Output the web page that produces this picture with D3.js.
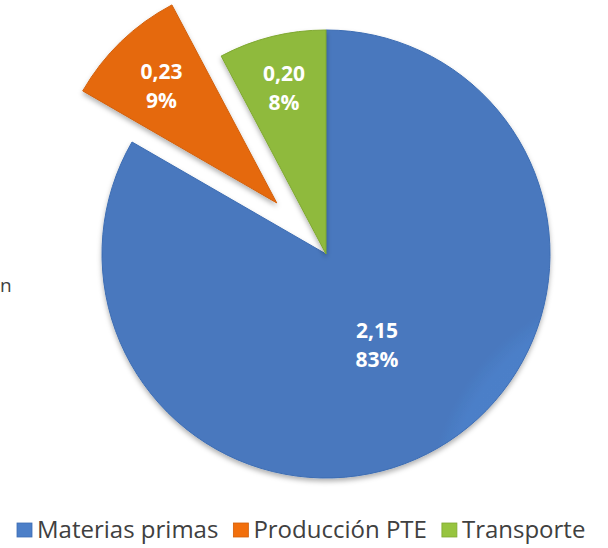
<!DOCTYPE html>
<html>
<head>
<meta charset="utf-8">
<script src="https://cdn.jsdelivr.net/npm/d3@7"></script>
<style>
  body { margin: 0; background: #fff; }
  svg { display: block; }
</style>
</head>
<body>
<svg id="chart" width="608" height="548"></svg>
<script>
// data
var categories = ["Materias primas", "Producción PTE", "Transporte"];
var values = [2.15, 0.23, 0.20];
var percents = ["83%", "9%", "8%"];
var valueLabels = ["2,15", "0,23", "0,20"];
var colors = ["#4c7fc8", "#f26f0c", "#97c43f"];
var edges = ["#3d6db3", "#d25f08", "#7fa831"];

var svg = d3.select("#chart"),
    cx = 326, cy = 254, radius = 224;

// how far each slice is pulled out, and where its label sits
var explode = [0, 71, 0];
var labelR = [102, 166, 174];

var defs = svg.append("defs");
var shadow = defs.append("filter").attr("id", "shadow")
    .attr("x", "-20%").attr("y", "-20%").attr("width", "140%").attr("height", "140%");
shadow.append("feDropShadow")
    .attr("dx", 0).attr("dy", 3).attr("stdDeviation", 2.5)
    .attr("flood-color", "#000").attr("flood-opacity", 0.3);

colors.forEach(function(c, i) {
    var g = defs.append("radialGradient").attr("id", "grad" + i)
        .attr("gradientUnits", "userSpaceOnUse")
        .attr("cx", cx).attr("cy", cy).attr("r", radius);
    g.append("stop").attr("offset", "0%").attr("stop-color", d3.color(c).brighter(0.08));
    g.append("stop").attr("offset", "92%").attr("stop-color", c);
    g.append("stop").attr("offset", "100%").attr("stop-color", d3.color(c).darker(0.15));
});

var pie = d3.pie().sort(null).value(function(d) { return d; });
var arcs = pie(values);

var arc = d3.arc().innerRadius(0).outerRadius(radius);

var graph = svg.append("g")
    .attr("transform", "translate(" + cx + "," + cy + ")");

var slice = graph.selectAll(".slice")
    .data(arcs)
    .enter().append("g")
    .attr("class", "slice")
    .attr("transform", function(d, i) {
        var a = (d.startAngle + d.endAngle) / 2;
        return "translate(" + (Math.sin(a) * explode[i]) + "," + (-Math.cos(a) * explode[i]) + ")";
    });

slice.append("path")
    .attr("d", arc)
    .attr("fill", function(d, i) { return "url(#grad" + i + ")"; })
    .attr("stroke", function(d, i) { return edges[i]; })
    .attr("stroke-width", 1)
    .attr("filter", "url(#shadow)");

slice.each(function(d, i) {
    var p = d3.arc().innerRadius(labelR[i]).outerRadius(labelR[i]).centroid(d);
    var t = d3.select(this).append("text")
        .attr("text-anchor", "middle")
        .attr("fill", "#fff")
        .style("font-family", "'Open Sans', sans-serif")
        .style("font-weight", "bold")
        .style("font-size", "21px");
    t.append("tspan").attr("x", p[0]).attr("y", p[1] - 4).text(valueLabels[i]);
    t.append("tspan").attr("x", p[0]).attr("y", p[1] + 25).text(percents[i]);
});

// legend along the bottom
var legend = svg.append("g").attr("class", "legend");
var lx = 17, ly = 538;
categories.forEach(function(name, i) {
    legend.append("rect")
        .attr("x", lx).attr("y", ly - 15)
        .attr("width", 15).attr("height", 14)
        .attr("fill", colors[i])
        .attr("stroke", edges[i]).attr("stroke-width", 0.8);
    var txt = legend.append("text")
        .attr("x", lx + 20).attr("y", ly)
        .attr("fill", "#404040")
        .style("font-family", "'Open Sans', sans-serif")
        .style("font-size", "24px")
        .text(name);
    lx += 20 + txt.node().getComputedTextLength() + 15;
});

// clipped text at the left edge of the crop
svg.append("text")
    .attr("x", 0).attr("y", 292)
    .attr("fill", "#404040")
    .style("font-family", "'Open Sans', sans-serif")
    .style("font-size", "19px")
    .text("n");
</script>
</body>
</html>
